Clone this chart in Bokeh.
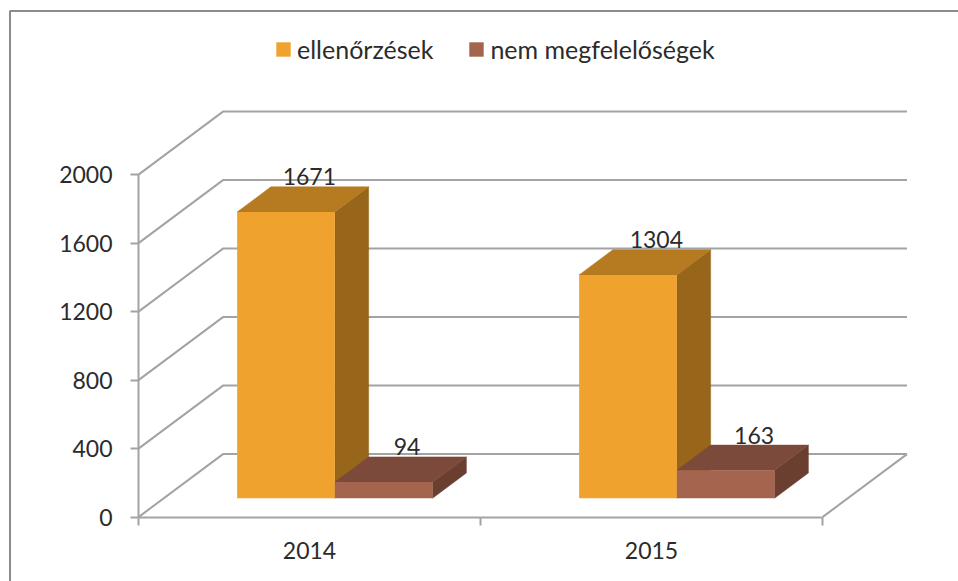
from bokeh.embed import file_html
from bokeh.resources import INLINE
from bokeh.plotting import figure
from bokeh.models import (Range1d, LinearAxis, FixedTicker, Legend, LegendItem,
                          ColumnDataSource)
from bokeh.core.properties import value

categories = ["2014", "2015"]
ellenorzesek = [1671, 1304]
nem_megfeleloseg = [94, 163]
y_ticks = [0, 400, 800, 1200, 1600, 2000]
series_names = ["ellenőrzések", "nem megfelelőségek"]

W, H = 958, 581
ORG = 0
FONT = "Lato"
TXT = "#2b2b2b"
GRID = "#a3a3a3"

# layout: pixels of the picture <-> data scale
PX_X0, PX_CAT = 138.0, 342.0      # x=0 pixel, pixels per category
PX_Y0, PX_VAL = 516.6, 68.5 / 400 # value 0 pixel, pixels per value unit
def fx(px): return (px - PX_X0) / PX_CAT
def fy(py): return (PX_Y0 - py) / PX_VAL

DX = 84.5 / PX_CAT     # full depth of the floor, in category units
DY = 63.0 / PX_VAL     # full depth of the floor, in value units
Z0, Z1 = 0.3, 0.7      # front and back of the bars within the depth
BAR_W = 1 / 3.5        # gap width 150 %

def proj(x, v, z):
    return x + z * DX, v + z * DY

p = figure(width=W, height=H, output_backend="svg", toolbar_location=None,
           x_range=Range1d(fx(ORG), fx(ORG + W)), y_range=Range1d(fy(ORG + H), fy(ORG)),
           x_axis_location=None, y_axis_location=None, min_border=0)
p.outline_line_color = None
p.background_fill_color = "white"
p.grid.visible = False

# outer chart border
p.line([fx(9.5), fx(9.5), fx(ORG + W)], [fy(ORG + H), fy(10.5), fy(10.5)],
       line_color="#8c8c8c", line_width=2)

# walls
for v in y_ticks:
    xa, ya = proj(0, v, 0)
    xb, yb = proj(0, v, 1)
    xc, yc = proj(2, v, 1)
    p.line([xa, xb, xc], [ya, yb, yc], line_color=GRID, line_width=2)
xa, ya = proj(2, 0, 0)
xb, yb = proj(2, 0, 1)
p.line([xa, xb], [ya, yb], line_color=GRID, line_width=2)

# bars
def box(left, val, front, top, side):
    right = left + BAR_W
    xl, y0 = proj(left, 0, Z0)
    xr, yt = proj(right, val, Z0)
    xbl, ybt = proj(left, val, Z1)
    xbr, _ = proj(right, val, Z1)
    _, yb0 = proj(right, 0, Z1)
    p.patch([xr, xbr, xbr, xr], [y0, yb0, ybt, yt], fill_color=side, line_color=side, line_width=0.5)
    p.patch([xl, xbl, xbr, xr], [yt, ybt, ybt, yt], fill_color=top, line_color=top, line_width=0.5)
    return xl, xr, y0, yt

rows = {"l": [], "r": [], "b": [], "t": []}
rows2 = {"l": [], "r": [], "b": [], "t": []}
lx, ly, lt, loff = [], [], [], []
offs = [-2, 3]
for i in range(len(categories)):
    left1 = i + 0.5 - BAR_W
    left2 = i + 0.5
    for val, left, rr, cols in ((ellenorzesek[i], left1, rows, ("#f0a22e", "#b67a21", "#97661b")),
                                (nem_megfeleloseg[i], left2, rows2, ("#a5644e", "#7c4a3a", "#6b3f30"))):
        xl, xr, y0, yt = box(left, val, *cols)
        rr["l"].append(xl); rr["r"].append(xr); rr["b"].append(y0); rr["t"].append(yt)
        lx.append(proj(left + BAR_W / 2, val, 0.6)[0])
        ly.append(proj(left, val, Z1)[1])
        lt.append(str(val)); loff.append(offs[i])

r1 = p.quad(left="l", right="r", bottom="b", top="t", source=ColumnDataSource(rows),
            fill_color="#f0a22e", line_color=None)
r2 = p.quad(left="l", right="r", bottom="b", top="t", source=ColumnDataSource(rows2),
            fill_color="#a5644e", line_color=None)

p.text(x="x", y="y", text="t", x_offset="o", y_offset=-10,
       source=ColumnDataSource(dict(x=lx, y=ly, t=lt, o=loff)),
       text_font=value(FONT), text_font_size="23px", text_color=TXT,
       text_align="center", text_baseline="middle")

# axes
ya_ = LinearAxis(ticker=FixedTicker(ticks=y_ticks), fixed_location=0, bounds=(0, 2000))
ya_.axis_line_color = GRID; ya_.axis_line_width = 2
ya_.major_tick_line_color = GRID; ya_.major_tick_line_width = 2
ya_.major_tick_out = 8; ya_.major_tick_in = 0
ya_.minor_tick_line_color = None
ya_.major_label_text_font = FONT; ya_.major_label_text_font_size = "23px"
ya_.major_label_text_color = TXT; ya_.major_label_standoff = 18
p.add_layout(ya_, "left")

xa_ = LinearAxis(ticker=FixedTicker(ticks=[0.5, 1.5], minor_ticks=[0, 1, 2]),
                 fixed_location=0, bounds=(0, 2))
xa_.axis_line_color = GRID; xa_.axis_line_width = 2
xa_.major_tick_line_color = None
xa_.major_tick_out = 8; xa_.major_tick_in = 0
xa_.minor_tick_line_color = GRID; xa_.minor_tick_line_width = 2
xa_.minor_tick_out = 8; xa_.minor_tick_in = 0
xa_.major_label_overrides = {0.5: categories[0], 1.5: categories[1]}
xa_.major_label_text_font = FONT; xa_.major_label_text_font_size = "23px"
xa_.major_label_text_color = TXT; xa_.major_label_standoff = 17
p.add_layout(xa_, "below")

legend = Legend(items=[LegendItem(label=series_names[0], renderers=[r1]),
                       LegendItem(label=series_names[1], renderers=[r2])],
                orientation="horizontal", location=(274, 517), padding=0, margin=0,
                glyph_width=18, glyph_height=18, label_standoff=5, spacing=34,
                border_line_color=None, background_fill_alpha=0,
                label_text_font=FONT, label_text_font_size="25px", label_text_color=TXT)
p.add_layout(legend, "center")

open("out.html", "w").write(file_html(p, INLINE))
